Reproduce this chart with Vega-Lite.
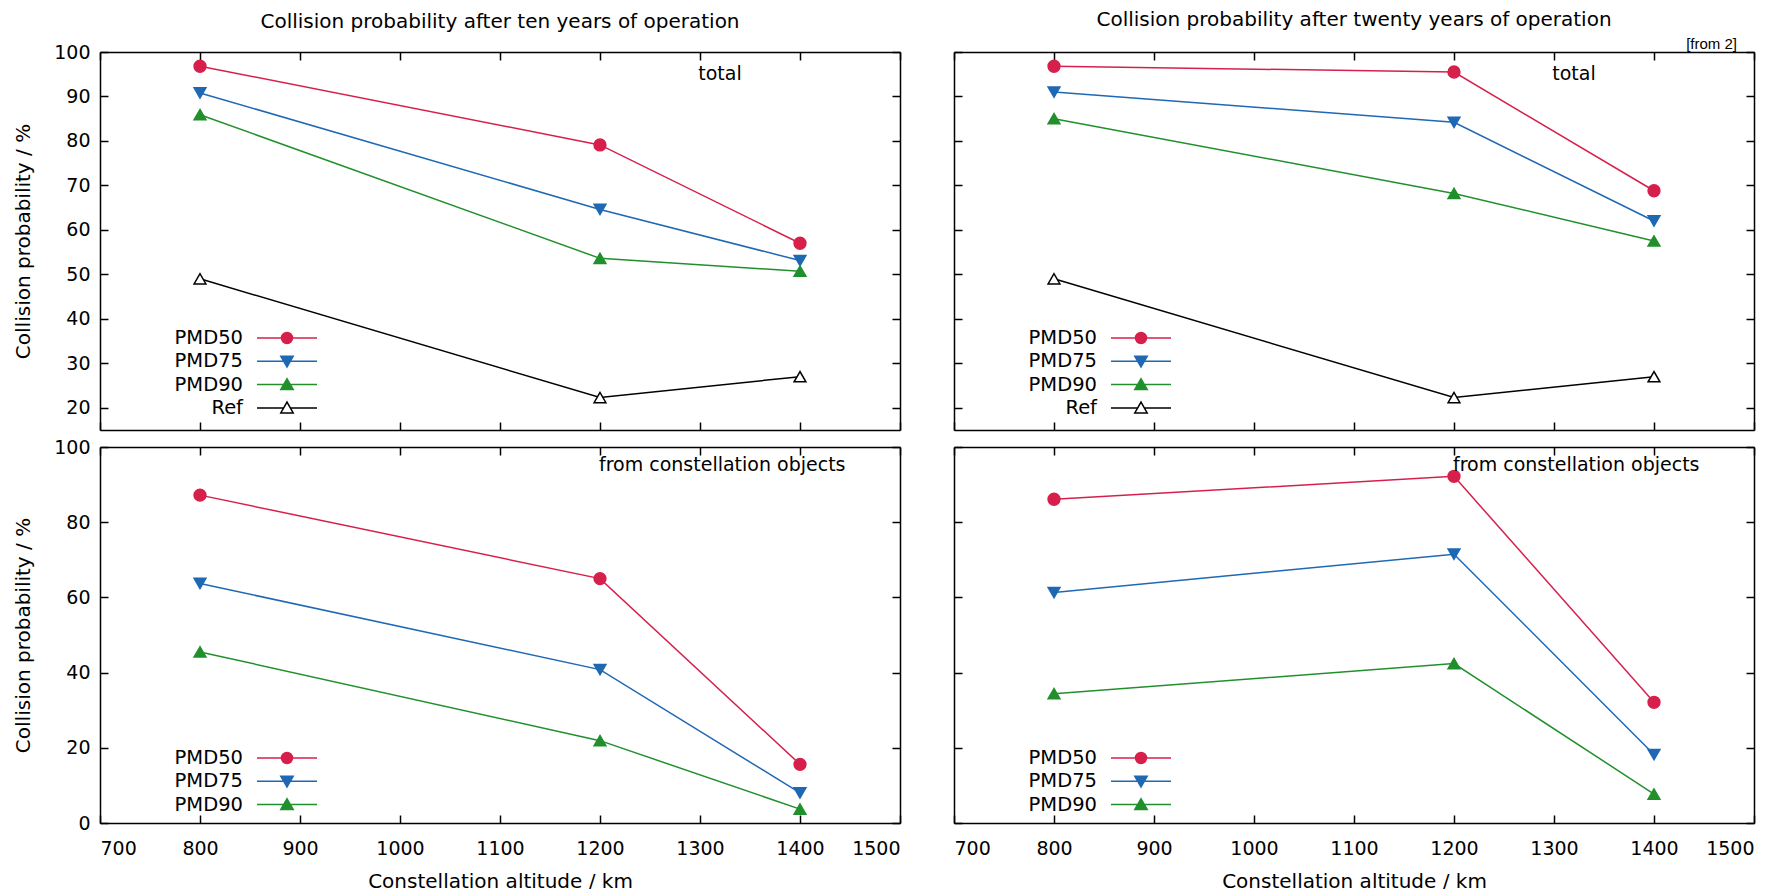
{
  "$schema": "https://vega.github.io/schema/vega-lite/v6.json",
  "background": "white",
  "padding": {"left": 13, "top": 9, "right": 5, "bottom": 0},
  "datasets": {
    "d": [
      {"panel": "TL", "series": "PMD50", "alt": 800, "prob": 96.8},
      {"panel": "TL", "series": "PMD50", "alt": 1200, "prob": 79.1},
      {"panel": "TL", "series": "PMD50", "alt": 1400, "prob": 57.0},
      {"panel": "TL", "series": "PMD75", "alt": 800, "prob": 90.8},
      {"panel": "TL", "series": "PMD75", "alt": 1200, "prob": 64.6},
      {"panel": "TL", "series": "PMD75", "alt": 1400, "prob": 53.1},
      {"panel": "TL", "series": "PMD90", "alt": 800, "prob": 85.9},
      {"panel": "TL", "series": "PMD90", "alt": 1200, "prob": 53.6},
      {"panel": "TL", "series": "PMD90", "alt": 1400, "prob": 50.7},
      {"panel": "TL", "series": "Ref", "alt": 800, "prob": 49.0},
      {"panel": "TL", "series": "Ref", "alt": 1200, "prob": 22.3},
      {"panel": "TL", "series": "Ref", "alt": 1400, "prob": 27.0},
      {"panel": "TR", "series": "PMD50", "alt": 800, "prob": 96.8},
      {"panel": "TR", "series": "PMD50", "alt": 1200, "prob": 95.5},
      {"panel": "TR", "series": "PMD50", "alt": 1400, "prob": 68.8},
      {"panel": "TR", "series": "PMD75", "alt": 800, "prob": 91.0},
      {"panel": "TR", "series": "PMD75", "alt": 1200, "prob": 84.2},
      {"panel": "TR", "series": "PMD75", "alt": 1400, "prob": 62.0},
      {"panel": "TR", "series": "PMD90", "alt": 800, "prob": 85.0},
      {"panel": "TR", "series": "PMD90", "alt": 1200, "prob": 68.2},
      {"panel": "TR", "series": "PMD90", "alt": 1400, "prob": 57.5},
      {"panel": "TR", "series": "Ref", "alt": 800, "prob": 49.0},
      {"panel": "TR", "series": "Ref", "alt": 1200, "prob": 22.3},
      {"panel": "TR", "series": "Ref", "alt": 1400, "prob": 27.0},
      {"panel": "BL", "series": "PMD50", "alt": 800, "prob": 87.2},
      {"panel": "BL", "series": "PMD50", "alt": 1200, "prob": 65.0},
      {"panel": "BL", "series": "PMD50", "alt": 1400, "prob": 15.6},
      {"panel": "BL", "series": "PMD75", "alt": 800, "prob": 63.7},
      {"panel": "BL", "series": "PMD75", "alt": 1200, "prob": 40.8},
      {"panel": "BL", "series": "PMD75", "alt": 1400, "prob": 8.0},
      {"panel": "BL", "series": "PMD90", "alt": 800, "prob": 45.5},
      {"panel": "BL", "series": "PMD90", "alt": 1200, "prob": 21.9},
      {"panel": "BL", "series": "PMD90", "alt": 1400, "prob": 3.7},
      {"panel": "BR", "series": "PMD50", "alt": 800, "prob": 86.1},
      {"panel": "BR", "series": "PMD50", "alt": 1200, "prob": 92.2},
      {"panel": "BR", "series": "PMD50", "alt": 1400, "prob": 32.1},
      {"panel": "BR", "series": "PMD75", "alt": 800, "prob": 61.3},
      {"panel": "BR", "series": "PMD75", "alt": 1200, "prob": 71.5},
      {"panel": "BR", "series": "PMD75", "alt": 1400, "prob": 18.2},
      {"panel": "BR", "series": "PMD90", "alt": 800, "prob": 34.4},
      {"panel": "BR", "series": "PMD90", "alt": 1200, "prob": 42.4},
      {"panel": "BR", "series": "PMD90", "alt": 1400, "prob": 7.7}
    ]
  },
  "config": {
    "font": "DejaVu Sans",
    "view": {"stroke": null},
    "axis": {
      "domainColor": "black", "domainWidth": 1.5,
      "tickColor": "black", "tickWidth": 1.5, "tickSize": -8,
      "grid": false, "format": "d",
      "labelFont": "DejaVu Sans", "labelFontSize": 19, "labelColor": "black",
      "titleFont": "DejaVu Sans", "titleFontSize": 20, "titleFontWeight": "normal", "titleColor": "black"
    },
    "axisX": {"labelPadding": 24},
    "axisY": {"labelPadding": 18},
    "title": {"font": "DejaVu Sans", "fontSize": 20, "fontWeight": "normal", "color": "black", "frame": "group"},
    "legend": {
      "orient": "none", "title": null, "symbolSize": 400, "symbolStrokeWidth": 1.5, "symbolOpacity": 1,
      "labelAlign": "right", "labelOffset": -55, "labelFont": "DejaVu Sans", "labelFontSize": 19.5, "labelColor": "black",
      "rowPadding": 2.3, "padding": 0
    }
  },
  "concat": [
    {
      "width": 800, "height": 378,
      "title": {"text": "Collision probability after ten years of operation", "offset": 11},
      "data": {"name": "d"},
      "transform": [{"filter": "datum.panel === 'TL'"}],
      "layer": [
        {
          "mark": {"type": "line", "strokeWidth": 1.5},
          "encoding": {
            "x": {"field": "alt", "type": "quantitative", "scale": {"domain": [700, 1500], "nice": false, "zero": false}, "axis": {"orient": "bottom", "values": [700, 800, 900, 1000, 1100, 1200, 1300, 1400, 1500], "labels": false, "title": null}},
            "y": {"field": "prob", "type": "quantitative", "scale": {"domain": [15, 100], "nice": false, "zero": false}, "axis": {"orient": "left", "values": [20, 30, 40, 50, 60, 70, 80, 90, 100], "title": "Collision probability / %", "titlePadding": 20}},
            "stroke": {"field": "series", "type": "nominal", "scale": {"domain": ["PMD50", "PMD75", "PMD90", "Ref"], "range": ["#d6204b", "#1f68b3", "#21902c", "#000000"]}, "legend": null}
          }
        },
        {
          "mark": {"type": "point", "size": 140, "opacity": 1, "strokeWidth": 1.5},
          "encoding": {
            "x": {"field": "alt", "type": "quantitative", "scale": {"domain": [700, 1500], "nice": false, "zero": false}, "axis": {"orient": "top", "values": [700, 800, 900, 1000, 1100, 1200, 1300, 1400, 1500], "labels": false, "title": null}},
            "y": {"field": "prob", "type": "quantitative", "scale": {"domain": [15, 100], "nice": false, "zero": false}, "axis": {"orient": "right", "values": [20, 30, 40, 50, 60, 70, 80, 90, 100], "labels": false, "title": null}},
            "stroke": {"field": "series", "type": "nominal", "scale": {"domain": ["PMD50", "PMD75", "PMD90", "Ref"], "range": ["#d6204b", "#1f68b3", "#21902c", "#000000"]}, "legend": null},
            "fill": {"field": "series", "type": "nominal", "scale": {"domain": ["PMD50", "PMD75", "PMD90", "Ref"], "range": ["#d6204b", "#1f68b3", "#21902c", "#ffffff"]}, "legend": null},
            "shape": {"field": "series", "type": "nominal", "scale": {"domain": ["PMD50", "PMD75", "PMD90", "Ref"], "range": ["circle", "triangle-down", "triangle-up", "triangle-up"]}, "legend": null}
          }
        },
        {
          "mark": {"type": "point", "size": 0, "opacity": 1, "strokeWidth": 1.5},
          "encoding": {
            "x": {"field": "alt", "type": "quantitative", "scale": {"domain": [700, 1500], "nice": false, "zero": false}, "axis": null},
            "y": {"field": "prob", "type": "quantitative", "scale": {"domain": [15, 100], "nice": false, "zero": false}, "axis": null},
            "stroke": {"field": "series", "type": "nominal", "scale": {"domain": ["PMD50", "PMD75", "PMD90", "Ref"], "range": ["#d6204b", "#1f68b3", "#21902c", "#000000"]}},
            "fill": {"field": "series", "type": "nominal", "scale": {"domain": ["PMD50", "PMD75", "PMD90", "Ref"], "range": ["#d6204b", "#1f68b3", "#21902c", "#ffffff"]}},
            "shape": {"field": "series", "type": "nominal", "scale": {"domain": ["PMD50", "PMD75", "PMD90", "Ref"], "range": ["M-3,0H3M0.55,0A0.55,0.55 0 1,1 -0.55,0A0.55,0.55 0 1,1 0.55,0Z", "M-3,0H3M-0.62,-0.5L0.62,-0.5L0,0.58Z", "M-3,0H3M-0.62,0.5L0.62,0.5L0,-0.58Z", "M-3,0H-0.33M0.33,0H3M-0.62,0.5L0.62,0.5L0,-0.58Z"]},
              "legend": {"legendX": 176, "legendY": 275}}
          }
        },
        {
          "data": {"values": [{"note": "total"}]},
          "mark": {"type": "text", "fontSize": 19, "align": "center", "baseline": "middle", "color": "black"},
          "encoding": {
            "x": {"datum": 1320, "type": "quantitative", "scale": {"domain": [700, 1500], "nice": false, "zero": false}, "axis": null},
            "y": {"datum": 95.0, "type": "quantitative", "scale": {"domain": [15, 100], "nice": false, "zero": false}, "axis": null},
            "text": {"field": "note"}
          }
        }
      ],
      "resolve": {
        "axis": {"x": "independent", "y": "independent"},
        "scale": {"stroke": "independent", "fill": "independent", "shape": "independent"},
        "legend": {"stroke": "independent", "fill": "independent", "shape": "independent"}
      }
    },
    {
      "width": 800, "height": 378,
      "title": {"text": "Collision probability after twenty years of operation", "offset": 7},
      "data": {"name": "d"},
      "transform": [{"filter": "datum.panel === 'TR'"}],
      "layer": [
        {
          "mark": {"type": "line", "strokeWidth": 1.5},
          "encoding": {
            "x": {"field": "alt", "type": "quantitative", "scale": {"domain": [700, 1500], "nice": false, "zero": false}, "axis": {"orient": "bottom", "values": [700, 800, 900, 1000, 1100, 1200, 1300, 1400, 1500], "labels": false, "title": null}},
            "y": {"field": "prob", "type": "quantitative", "scale": {"domain": [15, 100], "nice": false, "zero": false}, "axis": {"orient": "left", "values": [20, 30, 40, 50, 60, 70, 80, 90, 100], "labels": false, "title": null}},
            "stroke": {"field": "series", "type": "nominal", "scale": {"domain": ["PMD50", "PMD75", "PMD90", "Ref"], "range": ["#d6204b", "#1f68b3", "#21902c", "#000000"]}, "legend": null}
          }
        },
        {
          "mark": {"type": "point", "size": 140, "opacity": 1, "strokeWidth": 1.5},
          "encoding": {
            "x": {"field": "alt", "type": "quantitative", "scale": {"domain": [700, 1500], "nice": false, "zero": false}, "axis": {"orient": "top", "values": [700, 800, 900, 1000, 1100, 1200, 1300, 1400, 1500], "labels": false, "title": null}},
            "y": {"field": "prob", "type": "quantitative", "scale": {"domain": [15, 100], "nice": false, "zero": false}, "axis": {"orient": "right", "values": [20, 30, 40, 50, 60, 70, 80, 90, 100], "labels": false, "title": null}},
            "stroke": {"field": "series", "type": "nominal", "scale": {"domain": ["PMD50", "PMD75", "PMD90", "Ref"], "range": ["#d6204b", "#1f68b3", "#21902c", "#000000"]}, "legend": null},
            "fill": {"field": "series", "type": "nominal", "scale": {"domain": ["PMD50", "PMD75", "PMD90", "Ref"], "range": ["#d6204b", "#1f68b3", "#21902c", "#ffffff"]}, "legend": null},
            "shape": {"field": "series", "type": "nominal", "scale": {"domain": ["PMD50", "PMD75", "PMD90", "Ref"], "range": ["circle", "triangle-down", "triangle-up", "triangle-up"]}, "legend": null}
          }
        },
        {
          "mark": {"type": "point", "size": 0, "opacity": 1, "strokeWidth": 1.5},
          "encoding": {
            "x": {"field": "alt", "type": "quantitative", "scale": {"domain": [700, 1500], "nice": false, "zero": false}, "axis": null},
            "y": {"field": "prob", "type": "quantitative", "scale": {"domain": [15, 100], "nice": false, "zero": false}, "axis": null},
            "stroke": {"field": "series", "type": "nominal", "scale": {"domain": ["PMD50", "PMD75", "PMD90", "Ref"], "range": ["#d6204b", "#1f68b3", "#21902c", "#000000"]}},
            "fill": {"field": "series", "type": "nominal", "scale": {"domain": ["PMD50", "PMD75", "PMD90", "Ref"], "range": ["#d6204b", "#1f68b3", "#21902c", "#ffffff"]}},
            "shape": {"field": "series", "type": "nominal", "scale": {"domain": ["PMD50", "PMD75", "PMD90", "Ref"], "range": ["M-3,0H3M0.55,0A0.55,0.55 0 1,1 -0.55,0A0.55,0.55 0 1,1 0.55,0Z", "M-3,0H3M-0.62,-0.5L0.62,-0.5L0,0.58Z", "M-3,0H3M-0.62,0.5L0.62,0.5L0,-0.58Z", "M-3,0H-0.33M0.33,0H3M-0.62,0.5L0.62,0.5L0,-0.58Z"]},
              "legend": {"legendX": 176, "legendY": 275}}
          }
        },
        {
          "data": {"values": [{"note": "total"}]},
          "mark": {"type": "text", "fontSize": 19, "align": "center", "baseline": "middle", "color": "black"},
          "encoding": {
            "x": {"datum": 1320, "type": "quantitative", "scale": {"domain": [700, 1500], "nice": false, "zero": false}, "axis": null},
            "y": {"datum": 95.0, "type": "quantitative", "scale": {"domain": [15, 100], "nice": false, "zero": false}, "axis": null},
            "text": {"field": "note"}
          }
        },
        {
          "data": {"values": [{"note": "[from 2]"}]},
          "mark": {"type": "text", "font": "Liberation Sans", "fontSize": 15, "align": "right", "baseline": "middle", "color": "black"},
          "encoding": {
            "x": {"datum": 1483, "type": "quantitative", "scale": {"domain": [700, 1500], "nice": false, "zero": false}, "axis": null},
            "y": {"datum": 101.8, "type": "quantitative", "scale": {"domain": [15, 100], "nice": false, "zero": false}, "axis": null},
            "text": {"field": "note"}
          }
        }
      ],
      "resolve": {
        "axis": {"x": "independent", "y": "independent"},
        "scale": {"stroke": "independent", "fill": "independent", "shape": "independent"},
        "legend": {"stroke": "independent", "fill": "independent", "shape": "independent"}
      }
    },
    {
      "width": 800, "height": 376,
      "data": {"name": "d"},
      "transform": [{"filter": "datum.panel === 'BL'"}],
      "layer": [
        {
          "mark": {"type": "line", "strokeWidth": 1.5},
          "encoding": {
            "x": {"field": "alt", "type": "quantitative", "scale": {"domain": [700, 1500], "nice": false, "zero": false}, "axis": {"orient": "bottom", "values": [700, 800, 900, 1000, 1100, 1200, 1300, 1400, 1500], "title": "Constellation altitude / km", "titlePadding": 13}},
            "y": {"field": "prob", "type": "quantitative", "scale": {"domain": [0, 100], "nice": false, "zero": false}, "axis": {"orient": "left", "values": [0, 20, 40, 60, 80, 100], "title": "Collision probability / %", "titlePadding": 20}},
            "stroke": {"field": "series", "type": "nominal", "scale": {"domain": ["PMD50", "PMD75", "PMD90"], "range": ["#d6204b", "#1f68b3", "#21902c"]}, "legend": null}
          }
        },
        {
          "mark": {"type": "point", "size": 140, "opacity": 1, "strokeWidth": 1.5},
          "encoding": {
            "x": {"field": "alt", "type": "quantitative", "scale": {"domain": [700, 1500], "nice": false, "zero": false}, "axis": {"orient": "top", "values": [700, 800, 900, 1000, 1100, 1200, 1300, 1400, 1500], "labels": false, "title": null}},
            "y": {"field": "prob", "type": "quantitative", "scale": {"domain": [0, 100], "nice": false, "zero": false}, "axis": {"orient": "right", "values": [0, 20, 40, 60, 80, 100], "labels": false, "title": null}},
            "stroke": {"field": "series", "type": "nominal", "scale": {"domain": ["PMD50", "PMD75", "PMD90"], "range": ["#d6204b", "#1f68b3", "#21902c"]}, "legend": null},
            "fill": {"field": "series", "type": "nominal", "scale": {"domain": ["PMD50", "PMD75", "PMD90"], "range": ["#d6204b", "#1f68b3", "#21902c"]}, "legend": null},
            "shape": {"field": "series", "type": "nominal", "scale": {"domain": ["PMD50", "PMD75", "PMD90"], "range": ["circle", "triangle-down", "triangle-up"]}, "legend": null}
          }
        },
        {
          "mark": {"type": "point", "size": 0, "opacity": 1, "strokeWidth": 1.5},
          "encoding": {
            "x": {"field": "alt", "type": "quantitative", "scale": {"domain": [700, 1500], "nice": false, "zero": false}, "axis": null},
            "y": {"field": "prob", "type": "quantitative", "scale": {"domain": [0, 100], "nice": false, "zero": false}, "axis": null},
            "stroke": {"field": "series", "type": "nominal", "scale": {"domain": ["PMD50", "PMD75", "PMD90"], "range": ["#d6204b", "#1f68b3", "#21902c"]}},
            "fill": {"field": "series", "type": "nominal", "scale": {"domain": ["PMD50", "PMD75", "PMD90"], "range": ["#d6204b", "#1f68b3", "#21902c"]}},
            "shape": {"field": "series", "type": "nominal", "scale": {"domain": ["PMD50", "PMD75", "PMD90"], "range": ["M-3,0H3M0.55,0A0.55,0.55 0 1,1 -0.55,0A0.55,0.55 0 1,1 0.55,0Z", "M-3,0H3M-0.62,-0.5L0.62,-0.5L0,0.58Z", "M-3,0H3M-0.62,0.5L0.62,0.5L0,-0.58Z"]},
              "legend": {"legendX": 176, "legendY": 300}}
          }
        },
        {
          "data": {"values": [{"note": "from constellation objects"}]},
          "mark": {"type": "text", "fontSize": 19, "align": "left", "baseline": "middle", "color": "black"},
          "encoding": {
            "x": {"datum": 1199, "type": "quantitative", "scale": {"domain": [700, 1500], "nice": false, "zero": false}, "axis": null},
            "y": {"datum": 95.3, "type": "quantitative", "scale": {"domain": [0, 100], "nice": false, "zero": false}, "axis": null},
            "text": {"field": "note"}
          }
        }
      ],
      "resolve": {
        "axis": {"x": "independent", "y": "independent"},
        "scale": {"stroke": "independent", "fill": "independent", "shape": "independent"},
        "legend": {"stroke": "independent", "fill": "independent", "shape": "independent"}
      }
    },
    {
      "width": 800, "height": 376,
      "data": {"name": "d"},
      "transform": [{"filter": "datum.panel === 'BR'"}],
      "layer": [
        {
          "mark": {"type": "line", "strokeWidth": 1.5},
          "encoding": {
            "x": {"field": "alt", "type": "quantitative", "scale": {"domain": [700, 1500], "nice": false, "zero": false}, "axis": {"orient": "bottom", "values": [700, 800, 900, 1000, 1100, 1200, 1300, 1400, 1500], "title": "Constellation altitude / km", "titlePadding": 13}},
            "y": {"field": "prob", "type": "quantitative", "scale": {"domain": [0, 100], "nice": false, "zero": false}, "axis": {"orient": "left", "values": [0, 20, 40, 60, 80, 100], "labels": false, "title": null}},
            "stroke": {"field": "series", "type": "nominal", "scale": {"domain": ["PMD50", "PMD75", "PMD90"], "range": ["#d6204b", "#1f68b3", "#21902c"]}, "legend": null}
          }
        },
        {
          "mark": {"type": "point", "size": 140, "opacity": 1, "strokeWidth": 1.5},
          "encoding": {
            "x": {"field": "alt", "type": "quantitative", "scale": {"domain": [700, 1500], "nice": false, "zero": false}, "axis": {"orient": "top", "values": [700, 800, 900, 1000, 1100, 1200, 1300, 1400, 1500], "labels": false, "title": null}},
            "y": {"field": "prob", "type": "quantitative", "scale": {"domain": [0, 100], "nice": false, "zero": false}, "axis": {"orient": "right", "values": [0, 20, 40, 60, 80, 100], "labels": false, "title": null}},
            "stroke": {"field": "series", "type": "nominal", "scale": {"domain": ["PMD50", "PMD75", "PMD90"], "range": ["#d6204b", "#1f68b3", "#21902c"]}, "legend": null},
            "fill": {"field": "series", "type": "nominal", "scale": {"domain": ["PMD50", "PMD75", "PMD90"], "range": ["#d6204b", "#1f68b3", "#21902c"]}, "legend": null},
            "shape": {"field": "series", "type": "nominal", "scale": {"domain": ["PMD50", "PMD75", "PMD90"], "range": ["circle", "triangle-down", "triangle-up"]}, "legend": null}
          }
        },
        {
          "mark": {"type": "point", "size": 0, "opacity": 1, "strokeWidth": 1.5},
          "encoding": {
            "x": {"field": "alt", "type": "quantitative", "scale": {"domain": [700, 1500], "nice": false, "zero": false}, "axis": null},
            "y": {"field": "prob", "type": "quantitative", "scale": {"domain": [0, 100], "nice": false, "zero": false}, "axis": null},
            "stroke": {"field": "series", "type": "nominal", "scale": {"domain": ["PMD50", "PMD75", "PMD90"], "range": ["#d6204b", "#1f68b3", "#21902c"]}},
            "fill": {"field": "series", "type": "nominal", "scale": {"domain": ["PMD50", "PMD75", "PMD90"], "range": ["#d6204b", "#1f68b3", "#21902c"]}},
            "shape": {"field": "series", "type": "nominal", "scale": {"domain": ["PMD50", "PMD75", "PMD90"], "range": ["M-3,0H3M0.55,0A0.55,0.55 0 1,1 -0.55,0A0.55,0.55 0 1,1 0.55,0Z", "M-3,0H3M-0.62,-0.5L0.62,-0.5L0,0.58Z", "M-3,0H3M-0.62,0.5L0.62,0.5L0,-0.58Z"]},
              "legend": {"legendX": 176, "legendY": 300}}
          }
        },
        {
          "data": {"values": [{"note": "from constellation objects"}]},
          "mark": {"type": "text", "fontSize": 19, "align": "left", "baseline": "middle", "color": "black"},
          "encoding": {
            "x": {"datum": 1199, "type": "quantitative", "scale": {"domain": [700, 1500], "nice": false, "zero": false}, "axis": null},
            "y": {"datum": 95.3, "type": "quantitative", "scale": {"domain": [0, 100], "nice": false, "zero": false}, "axis": null},
            "text": {"field": "note"}
          }
        }
      ],
      "resolve": {
        "axis": {"x": "independent", "y": "independent"},
        "scale": {"stroke": "independent", "fill": "independent", "shape": "independent"},
        "legend": {"stroke": "independent", "fill": "independent", "shape": "independent"}
      }
    }
  ],
  "columns": 2,
  "spacing": {"row": 7, "column": 52},
  "resolve": {
    "scale": {"x": "independent", "y": "independent", "stroke": "independent", "fill": "independent", "shape": "independent"},
    "legend": {"stroke": "independent", "fill": "independent", "shape": "independent"}
  }
}
